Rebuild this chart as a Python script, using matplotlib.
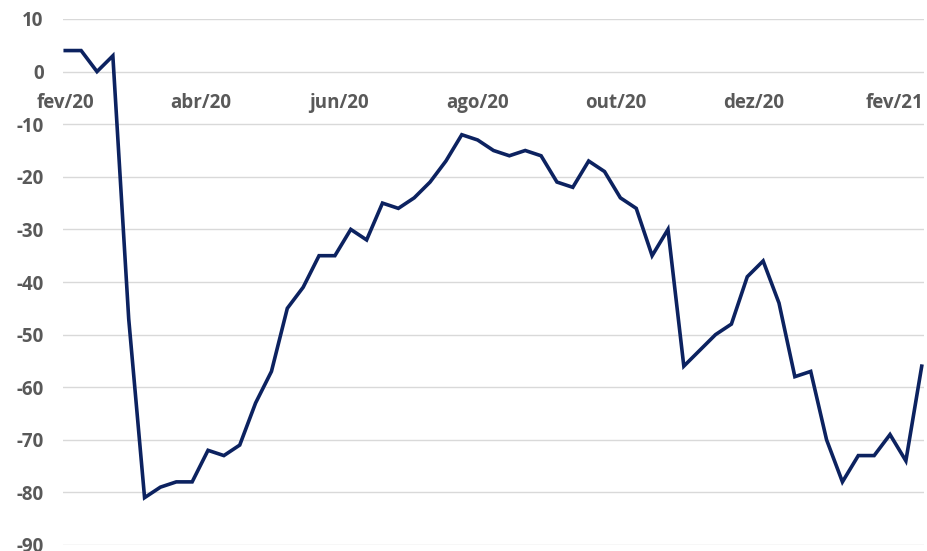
import matplotlib
matplotlib.use("Agg")
import matplotlib.pyplot as plt
import pandas as pd

# Weekly index values, starting in early February 2020
start_date = "2020-02-01"
values = [4, 4, 0, 3, -47, -81, -79, -78, -78, -72,
          -73, -71, -63, -57, -45, -41, -35, -35, -30, -32,
          -25, -26, -24, -21, -17, -12, -13, -15, -16, -15,
          -16, -21, -22, -17, -19, -24, -26, -35, -30, -56,
          -53, -50, -48, -39, -36, -44, -58, -57, -70, -78,
          -73, -73, -69, -74, -56]
dates = pd.date_range(start_date, periods=len(values), freq="7D")

month_pt = {1: "jan", 2: "fev", 3: "mar", 4: "abr", 5: "mai", 6: "jun",
            7: "jul", 8: "ago", 9: "set", 10: "out", 11: "nov", 12: "dez"}
tick_dates = pd.date_range("2020-02-01", "2021-02-01", freq="2MS")
tick_labels = [f"{month_pt[d.month]}/{d.strftime('%y')}" for d in tick_dates]
y_ticks = list(range(-90, 11, 10))

plt.rcParams["font.family"] = ["Open Sans", "DejaVu Sans"]
plt.rcParams["axes.unicode_minus"] = False
fig = plt.figure(figsize=(9.28, 5.51), dpi=100)
W, H = 928, 551
ax = fig.add_axes([63 / W, 1 - 545 / H, (924 - 63) / W, (545 - 19) / H])

ax.plot(dates, values, color="#0C2260", lw=2.6, solid_joinstyle="miter",
        zorder=3, clip_on=False)

ax.set_ylim(-90, 10)
ax.set_yticks(y_ticks)
ax.set_xlim(dates[0] - pd.Timedelta(days=1), dates[-1] + pd.Timedelta(days=1))
ax.set_xticks(tick_dates)
ax.set_xticklabels(tick_labels)

ax.grid(axis="y", color="#D9D9D9", lw=1.0, zorder=0)
ax.grid(axis="x", visible=False)
for s in ["top", "right", "left"]:
    ax.spines[s].set_visible(False)
ax.spines["bottom"].set_position(("data", 0))
ax.spines["bottom"].set_visible(False)

ax.tick_params(axis="both", length=0, labelsize=13.5, labelcolor="#595959")
ax.tick_params(axis="y", pad=14)
ax.tick_params(axis="x", pad=15.5)
for lbl in ax.get_xticklabels() + ax.get_yticklabels():
    lbl.set_fontweight("bold")

fig.savefig("out.png", dpi=100, facecolor="white")
